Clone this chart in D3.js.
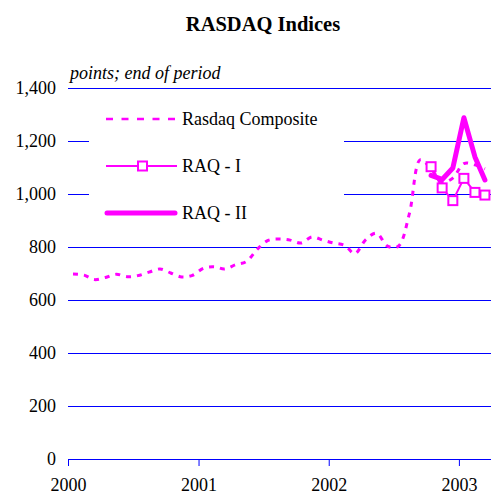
<!DOCTYPE html>
<html>
<head>
<meta charset="utf-8">
<script src="https://cdn.jsdelivr.net/npm/d3@7"></script>
<style>
  body { margin: 0; background: #fff; }
  svg text { font-family: "Liberation Serif", "Times New Roman", serif; fill: #000; }
</style>
</head>
<body>
<div id="draw"></div>
<script>
// RASDAQ indices, monthly values (mid-month), Jan 2000 .. Mar 2003
var yearTicks = [2000, 2001, 2002, 2003];
var yTicks = [0, 200, 400, 600, 800, 1000, 1200, 1400];

// Rasdaq Composite, one value per month starting Jan 2000
var compositeValues = [
  698, 694, 677, 685, 697, 688, 692, 705, 717, 702, 687, 693,   // 2000
  720, 725, 717, 733, 745, 792, 825, 830, 826, 815, 838, 826,   // 2001
  815, 806, 775, 828, 852, 803, 803, 925, 1130, 1095, 1045, 1060, // 2002
  1115, 1110, 1095                                              // 2003
];
// RAQ - I and RAQ - II start Oct 2002
var raq1Values = [1103, 1023, 975, 1059, 1006, 996];
var raq2Values = [1070, 1055, 1098, 1288, 1140, 1053];

var seriesNames = ['Rasdaq Composite', 'RAQ - I', 'RAQ - II'];

window.onload = function(){
    var W = 491, H = 494;
    var pink = '#ff00ff', grid = '#0000ff';
    var svg = d3.select('#draw').append('svg').attr('width', W).attr('height', H);

    function monthDate(startYear, startMonth, i){
        return new Date(startYear, startMonth + i, 15);
    }
    var composite = compositeValues.map(function(v, i){ return {date: monthDate(2000, 0, i), value: v}; });
    var raq1 = raq1Values.map(function(v, i){ return {date: monthDate(2002, 9, i), value: v}; });
    var raq2 = raq2Values.map(function(v, i){ return {date: monthDate(2002, 9, i), value: v}; });

    var x = d3.scaleTime().domain([new Date(2000, 0, 1), new Date(2003, 3, 1)]).range([68, 491]);
    var y = d3.scaleLinear().domain([0, 1400]).range([459, 88]);

    // title
    svg.append('text').attr('x', 263).attr('y', 31).attr('text-anchor', 'middle')
        .style('font-size', '20.5px').style('font-weight', 'bold').text('RASDAQ Indices');

    // y axis with gridlines
    var yAxis = svg.append('g').attr('transform', 'translate(68,0)')
        .call(d3.axisLeft(y).tickValues(yTicks).tickSize(-(491 - 68)).tickPadding(12)
            .tickFormat(d3.format(',')));
    yAxis.select('.domain').remove();
    yAxis.selectAll('line').attr('stroke', grid).attr('stroke-width', 1);
    yAxis.selectAll('text').style('font-size', '18px').attr('font-family', null);

    // x axis
    var xAxis = svg.append('g').attr('transform', 'translate(0,459)')
        .call(d3.axisBottom(x).tickValues(yearTicks.map(function(yr){ return new Date(yr, 0, 1); }))
            .tickSize(7).tickPadding(12).tickFormat(d3.timeFormat('%Y')));
    xAxis.select('.domain').attr('stroke', grid).attr('d', 'M68,0.5H491');
    xAxis.selectAll('line').attr('stroke', grid);
    xAxis.selectAll('text').style('font-size', '18px').attr('font-family', null);

    // unit label
    svg.append('text').attr('x', 70).attr('y', 79)
        .style('font-size', '18px').style('font-style', 'italic').text('points; end of period');

    // legend background
    svg.append('rect').attr('x', 89).attr('y', 100).attr('width', 255).attr('height', 128).attr('fill', '#fff');

    // lines
    var smooth = d3.line().x(function(d){ return x(d.date); }).y(function(d){ return y(d.value); })
        .curve(d3.curveCatmullRom.alpha(0.5));
    var straight = d3.line().x(function(d){ return x(d.date); }).y(function(d){ return y(d.value); });

    svg.append('path').datum(composite).attr('d', smooth)
        .attr('fill', 'none').attr('stroke', pink).attr('stroke-width', 3).attr('stroke-dasharray', '5,6');

    svg.append('path').datum(raq2).attr('d', straight)
        .attr('fill', 'none').attr('stroke', pink).attr('stroke-width', 5)
        .attr('stroke-linejoin', 'round').attr('stroke-linecap', 'round');

    svg.append('path').datum(raq1).attr('d', straight)
        .attr('fill', 'none').attr('stroke', pink).attr('stroke-width', 2);
    svg.selectAll('rect.m').data(raq1).enter().append('rect').attr('class', 'm')
        .attr('x', function(d){ return x(d.date) - 4.5; }).attr('y', function(d){ return y(d.value) - 4.5; })
        .attr('width', 9).attr('height', 9).attr('fill', '#fff').attr('stroke', pink).attr('stroke-width', 2);

    // legend
    var legendY = [119, 166, 213];
    var lg = svg.append('g');
    lg.append('line').attr('x1', 106).attr('x2', 177).attr('y1', legendY[0]).attr('y2', legendY[0])
        .attr('stroke', pink).attr('stroke-width', 2.5).attr('stroke-dasharray', '7,8.5');
    lg.append('line').attr('x1', 106).attr('x2', 177).attr('y1', legendY[1]).attr('y2', legendY[1])
        .attr('stroke', pink).attr('stroke-width', 2);
    lg.append('rect').attr('x', 138).attr('y', legendY[1] - 4.5).attr('width', 9).attr('height', 9)
        .attr('fill', '#fff').attr('stroke', pink).attr('stroke-width', 2);
    lg.append('line').attr('x1', 107).attr('x2', 175).attr('y1', legendY[2]).attr('y2', legendY[2])
        .attr('stroke', pink).attr('stroke-width', 5).attr('stroke-linecap', 'round');
    lg.selectAll('text').data(seriesNames).enter().append('text')
        .attr('x', 182).attr('y', function(d, i){ return legendY[i]; }).attr('dy', '0.35em')
        .style('font-size', '18px').text(function(d){ return d; });
};
</script>
</body>
</html>
